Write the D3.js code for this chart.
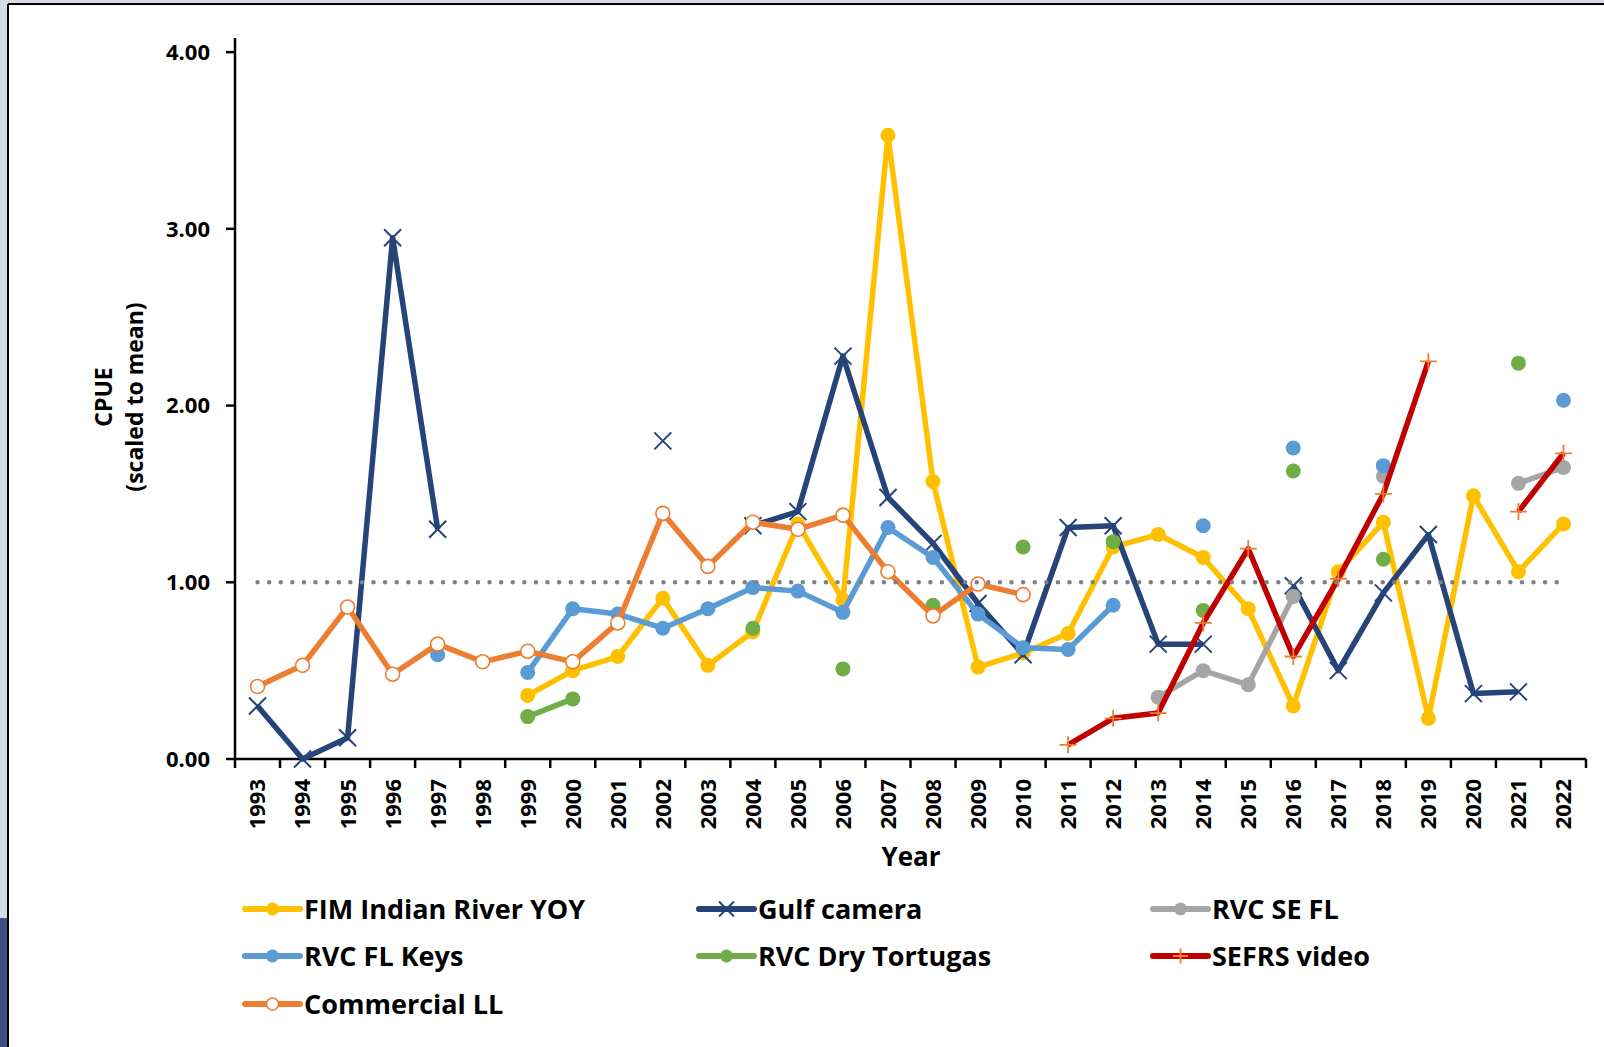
<!DOCTYPE html>
<html>
<head>
<meta charset="utf-8">
<script src="https://cdn.jsdelivr.net/npm/d3@7"></script>
<style>
  body { margin: 0; background: #fff; }
  text { font-family: "Open Sans", sans-serif; font-weight: bold; fill: #000; }
</style>
</head>
<body>
<div id="chart"></div>
<script>
// data, null = no value that year
var years = [1993, 1994, 1995, 1996, 1997, 1998, 1999, 2000, 2001, 2002,
             2003, 2004, 2005, 2006, 2007, 2008, 2009, 2010, 2011, 2012,
             2013, 2014, 2015, 2016, 2017, 2018, 2019, 2020, 2021, 2022];

var fimIndianRiver = [null, null, null, null, null, null, 0.36, 0.50, 0.58, 0.91,
                      0.53, 0.72, 1.33, 0.90, 3.53, 1.57, 0.52, 0.60, 0.71, 1.20,
                      1.27, 1.14, 0.85, 0.30, 1.06, 1.34, 0.23, 1.49, 1.06, 1.33];
var gulfCamera = [0.30, 0.00, 0.12, 2.95, 1.30, null, null, null, null, 1.80,
                  null, 1.32, 1.40, 2.28, 1.48, 1.22, 0.88, 0.59, 1.31, 1.32,
                  0.65, 0.65, null, 0.98, 0.50, 0.94, 1.27, 0.37, 0.38, null];
var rvcSEFL = [null, null, null, null, null, null, null, null, null, null,
               null, null, null, null, null, null, null, null, null, null,
               0.35, 0.50, 0.42, 0.92, null, 1.60, null, null, 1.56, 1.65];
var rvcFLKeys = [null, null, null, null, 0.59, null, 0.49, 0.85, 0.82, 0.74,
                 0.85, 0.97, 0.95, 0.83, 1.31, 1.14, 0.82, 0.63, 0.62, 0.87,
                 null, 1.32, null, 1.76, null, 1.66, null, null, null, 2.03];
var rvcDryTortugas = [null, null, null, null, null, null, 0.24, 0.34, null, null,
                      null, 0.74, null, 0.51, null, 0.87, null, 1.20, null, 1.23,
                      null, 0.84, null, 1.63, null, 1.13, null, null, 2.24, null];
var sefrsVideo = [null, null, null, null, null, null, null, null, null, null,
                  null, null, null, null, null, null, null, null, 0.08, 0.23,
                  0.26, 0.77, 1.19, 0.58, 1.02, 1.50, 2.25, null, 1.40, 1.73];
var commercialLL = [0.41, 0.53, 0.86, 0.48, 0.65, 0.55, 0.61, 0.55, 0.77, 1.39,
                    1.09, 1.34, 1.30, 1.38, 1.06, 0.81, 0.99, 0.93, null, null,
                    null, null, null, null, null, null, null, null, null, null];

var yTicks = [0, 1, 2, 3, 4];
var meanLine = 1;

// drawing order = Excel series order, legend order is different
var series = [
  { name: "FIM Indian River YOY", values: fimIndianRiver, color: "#FFC000", marker: "dot" },
  { name: "Gulf camera", values: gulfCamera, color: "#264478", marker: "x" },
  { name: "RVC SE FL", values: rvcSEFL, color: "#A5A5A5", marker: "dot" },
  { name: "RVC FL Keys", values: rvcFLKeys, color: "#5B9BD5", marker: "dot" },
  { name: "RVC Dry Tortugas", values: rvcDryTortugas, color: "#70AD47", marker: "dot" },
  { name: "SEFRS video", values: sefrsVideo, color: "#C00000", marker: "plus" },
  { name: "Commercial LL", values: commercialLL, color: "#ED7D31", marker: "ring" }
];
var legendOrder = ["FIM Indian River YOY", "Gulf camera", "RVC SE FL",
                   "RVC FL Keys", "RVC Dry Tortugas", "SEFRS video", "Commercial LL"];

var W = 1604, H = 1047;
var svg = d3.select("#chart").append("svg")
  .attr("width", W).attr("height", H);

// frame bits around the pasted chart
svg.append("rect").attr("x", 0).attr("y", 0).attr("width", W).attr("height", 4).attr("fill", "#D6DCE4");
svg.append("rect").attr("x", 0).attr("y", 0).attr("width", 7).attr("height", H).attr("fill", "#D6DCE4");
svg.append("rect").attr("x", 0).attr("y", 918).attr("width", 7).attr("height", H - 918).attr("fill", "#3B5282");
svg.append("line").attr("x1", 8).attr("x2", W).attr("y1", 4).attr("y2", 4).attr("stroke", "#000").attr("stroke-width", 2);
svg.append("line").attr("x1", 8).attr("x2", 8).attr("y1", 4).attr("y2", H).attr("stroke", "#000").attr("stroke-width", 2);

// scales
var x = d3.scaleBand()
  .domain(years)
  .range([235, 1586])
  .padding(0);
var y = d3.scaleLinear()
  .domain([0, 4.08])
  .range([759, 38]);
function cx(yr) { return x(yr) + x.bandwidth() / 2; }

// x axis: ticks between categories
var xAxis = svg.append("g").attr("transform", "translate(0,759)");
xAxis.append("line")
  .attr("x1", 235).attr("x2", 1586)
  .attr("stroke", "#000").attr("stroke-width", 2.5);
xAxis.selectAll("line.tick")
  .data(years.concat([null]))
  .enter().append("line")
  .attr("class", "tick")
  .attr("x1", function(d, i) { return i < years.length ? x(d) : x.range()[1]; })
  .attr("x2", function(d, i) { return i < years.length ? x(d) : x.range()[1]; })
  .attr("y1", 0).attr("y2", 9)
  .attr("stroke", "#000").attr("stroke-width", 2.5);
xAxis.selectAll("text")
  .data(years)
  .enter().append("text")
  .attr("transform", function(d) { return "translate(" + cx(d) + ",20) rotate(-90)"; })
  .attr("dy", "0.36em")
  .attr("text-anchor", "end")
  .style("font-size", "22px")
  .text(function(d) { return d; });

// y axis
var yAxis = svg.append("g").attr("transform", "translate(235,0)");
yAxis.append("line")
  .attr("y1", y.range()[1]).attr("y2", 760)
  .attr("stroke", "#000").attr("stroke-width", 2.5);
yAxis.selectAll("line.tick")
  .data(yTicks)
  .enter().append("line")
  .attr("class", "tick")
  .attr("x1", -9).attr("x2", 0)
  .attr("y1", function(d) { return y(d); })
  .attr("y2", function(d) { return y(d); })
  .attr("stroke", "#000").attr("stroke-width", 2.5);
yAxis.selectAll("text")
  .data(yTicks)
  .enter().append("text")
  .attr("x", -25)
  .attr("y", function(d) { return y(d); })
  .attr("dy", "0.36em")
  .attr("text-anchor", "end")
  .style("font-size", "22px")
  .text(function(d) { return d3.format(".2f")(d); });

// axis titles
svg.append("text")
  .attr("transform", "translate(112,397) rotate(-90)")
  .attr("text-anchor", "middle")
  .style("font-size", "23px")
  .text("CPUE");
svg.append("text")
  .attr("transform", "translate(143,397) rotate(-90)")
  .attr("text-anchor", "middle")
  .style("font-size", "23px")
  .text("(scaled to mean)");
svg.append("text")
  .attr("x", 911).attr("y", 866)
  .attr("text-anchor", "middle")
  .style("font-size", "26px")
  .text("Year");

// markers
function drawMarker(g, type, color, px, py, r) {
  if (type === "dot") {
    g.append("circle").attr("cx", px).attr("cy", py).attr("r", r).attr("fill", color);
  } else if (type === "ring") {
    g.append("circle").attr("cx", px).attr("cy", py).attr("r", r - 0.5)
      .attr("fill", "#fff").attr("stroke", color).attr("stroke-width", 1.6);
  } else if (type === "x") {
    var s = r + 1;
    g.append("path")
      .attr("d", "M" + (px - s) + "," + (py - s) + "L" + (px + s) + "," + (py + s) +
                 "M" + (px - s) + "," + (py + s) + "L" + (px + s) + "," + (py - s))
      .attr("stroke", color).attr("stroke-width", 2).attr("fill", "none");
  } else if (type === "plus") {
    var p = r + 1;
    g.append("path")
      .attr("d", "M" + (px - p) + "," + py + "L" + (px + p) + "," + py +
                 "M" + px + "," + (py - p) + "L" + px + "," + (py + p))
      .attr("stroke", "#ED7D31").attr("stroke-width", 1.8).attr("fill", "none");
  }
}

var line = d3.line()
  .defined(function(d) { return d.v != null; })
  .x(function(d) { return cx(d.year); })
  .y(function(d) { return y(d.v); });

series.forEach(function(s) {
  var pts = years.map(function(yr, i) { return { year: yr, v: s.values[i] }; });
  var g = svg.append("g");
  g.append("path")
    .datum(pts)
    .attr("d", line)
    .attr("fill", "none")
    .attr("stroke", s.color)
    .attr("stroke-width", 5.5)
    .attr("stroke-linejoin", "round");
  pts.filter(function(d) { return d.v != null; }).forEach(function(d) {
    drawMarker(g, s.marker, s.color, cx(d.year), y(d.v), 7.5);
  });
});

// dotted mean line on top
svg.append("line")
  .attr("x1", cx(years[0])).attr("x2", cx(years[years.length - 1]))
  .attr("y1", y(meanLine)).attr("y2", y(meanLine))
  .attr("stroke", "#808080")
  .attr("stroke-width", 4.5)
  .attr("stroke-linecap", "round")
  .attr("stroke-dasharray", "0 11.6");

// legend, 3 columns
var legCols = [245, 699, 1153];
var legRows = [909, 956, 1004];
legendOrder.forEach(function(name, i) {
  var s = series.filter(function(d) { return d.name === name; })[0];
  var lx = legCols[i % 3], ly = legRows[Math.floor(i / 3)];
  var g = svg.append("g");
  g.append("line")
    .attr("x1", lx).attr("x2", lx + 55)
    .attr("y1", ly).attr("y2", ly)
    .attr("stroke", s.color).attr("stroke-width", 6).attr("stroke-linecap", "round");
  drawMarker(g, s.marker, s.color, lx + 27.5, ly, 6.5);
  g.append("text")
    .attr("x", lx + 59).attr("y", ly + 10)
    .style("font-size", "27px")
    .text(name);
});
</script>
</body>
</html>
